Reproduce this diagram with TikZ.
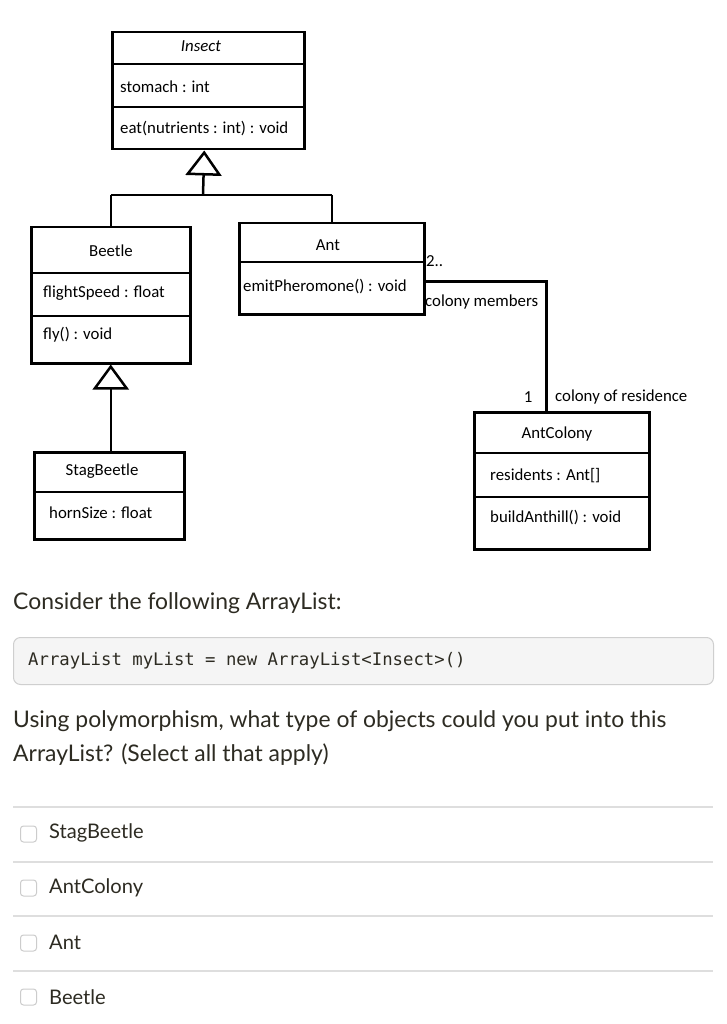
\documentclass[tikz,border=0pt]{standalone}
\usepackage{fontspec}
\setmainfont{Carlito}
\newfontfamily\latofont{Lato}
\newfontfamily\codefont{DejaVu Sans Mono}
\usetikzlibrary{arrows.meta}
\definecolor{txtdark}{HTML}{2D2B22}
\definecolor{codebg}{HTML}{F5F5F5}
\definecolor{codeborder}{HTML}{CFCFCF}
\definecolor{sepline}{HTML}{DEDEDE}
\definecolor{chkborder}{HTML}{CCCCCC}
\tikzset{
  umlbox/.style={draw=black, line width=2.5pt, rectangle, anchor=north west, inner sep=0pt},
  divider/.style={draw=black, line width=2.5pt},
  conn/.style={draw=black, line width=2.5pt},
  gen/.style={conn, -{Triangle[open, length=25pt, width=36pt, line width=2.5pt]}},
  umltext/.style={font=\fontsize{16.8}{19}\selectfont, inner sep=0pt, text=black},
  lbl/.style={umltext, anchor=west},
  qtext/.style={font=\latofont\fontsize{22.9}{27}\selectfont, text=txtdark, anchor=west, inner sep=0pt},
  opttext/.style={font=\latofont\fontsize{20.1}{24}\selectfont, text=txtdark, anchor=west, inner sep=0pt},
  chk/.style={draw=chkborder, line width=1pt, rounded corners=3pt, minimum width=16pt, minimum height=16pt, inner sep=0pt, fill=white},
  sep/.style={draw=sepline, line width=1.6pt},
}
\begin{document}
\begin{tikzpicture}[x=1pt, y=-1pt]
\useasboundingbox[fill=white] (0,0) rectangle (727,1024);

% ---------- Insect ----------
\node[umlbox, minimum width=192pt, minimum height=117pt] (insect) at (111,31) {};
\draw[divider] (111,64) -- (303,64);
\draw[divider] (111,107) -- (303,107);
\node[umltext, font=\fontsize{16.8}{19}\selectfont\itshape] (insectname) at (201,46) {Insect};
\node[lbl] (insectattr) at (120,87) {stomach : int};
\node[lbl] (insectop) at (120,129) {eat(nutrients : int) : void};

% ---------- Beetle ----------
\node[umlbox, minimum width=159pt, minimum height=136pt] (beetle) at (30,226) {};
\draw[divider] (30,273) -- (189,273);
\draw[divider] (30,316) -- (189,316);
\node[umltext] (beetlename) at (111,251) {Beetle};
\node[lbl] (beetleattr) at (43,293) {flightSpeed : float};
\node[lbl] (beetleop) at (43,335) {fly() : void};

% ---------- Ant ----------
\node[umlbox, minimum width=185pt, minimum height=91pt] (ant) at (238,222) {};
\draw[divider] (238,262) -- (423,262);
\node[umltext] (antname) at (328,245) {Ant};
\node[lbl] (antop) at (243,287) {emitPheromone() : void};

% ---------- StagBeetle ----------
\node[umlbox, minimum width=150pt, minimum height=87pt] (stag) at (33,451) {};
\draw[divider] (33,492) -- (183,492);
\node[umltext] (stagname) at (102,471) {StagBeetle};
\node[lbl] (stagattr) at (49,513) {hornSize : float};

% ---------- AntColony ----------
\node[umlbox, minimum width=175pt, minimum height=137pt] (colony) at (473,411) {};
\draw[divider] (473,453) -- (648,453);
\draw[divider] (473,497) -- (648,497);
\node[umltext] (colonyname) at (557,434) {AntColony};
\node[lbl] (colonyattr) at (490,476) {residents : Ant[]};
\node[lbl] (colonyop) at (490,518) {buildAnthill() : void};

% ---------- generalisations ----------
\coordinate (junction) at (203,195);
\draw[gen] (junction) -- ([xshift=-4pt]insect.south);
\draw[conn] (beetle.north |- junction) -- (ant.north |- junction);
\draw[conn] (beetle.north |- junction) -- (beetle.north);
\draw[conn] (ant.north |- junction) -- (ant.north);
\draw[gen] (stag.north -| beetle.south) -- (beetle.south);

% ---------- association ----------
\draw[conn] ([yshift=-12.5pt]ant.east) -| ([xshift=-15.5pt]colony.north);
\node[lbl] (mult1) at (426,261) {2..};
\node[lbl] (role1) at (425,302) {colony members};
\node[umltext] (mult2) at (528,397) {1};
\node[lbl] (role2) at (555,397) {colony of residence};

% ---------- question ----------
\node[qtext] (consider) at (13,603) {Consider the following ArrayList:};
\node[draw=codeborder, fill=codebg, line width=1pt, rounded corners=7pt, anchor=north west,
      minimum width=700pt, minimum height=47pt, inner sep=0pt] (codebox) at (13,637) {};
\node[font=\codefont\fontsize{17.3}{20}\selectfont, text=txtdark, anchor=west, inner sep=0pt] (code) at (28,661)
  {ArrayList myList = new ArrayList<Insect>()};
\node[qtext] (q1) at (13,721) {Using polymorphism, what type of objects could you put into this};
\node[qtext] (q2) at (13,755) {ArrayList? (Select all that apply)};

% ---------- options ----------
\coordinate (s1a) at (13,807); \coordinate (s1b) at (713,807);
\coordinate (s2a) at (13,862); \coordinate (s2b) at (713,862);
\coordinate (s3a) at (13,916); \coordinate (s3b) at (713,916);
\coordinate (s4a) at (13,971); \coordinate (s4b) at (713,971);
\draw[sep] (s1a) -- (s1b);
\draw[sep] (s2a) -- (s2b);
\draw[sep] (s3a) -- (s3b);
\draw[sep] (s4a) -- (s4b);

\node[chk] (c1) at (28.5,834) {};
\node[opttext] (o1) at (49,833) {StagBeetle};
\node[chk] (c2) at (28.5,888) {};
\node[opttext] (o2) at (49,888) {AntColony};
\node[chk] (c3) at (28.5,943) {};
\node[opttext] (o3) at (49,942) {Ant};
\node[chk] (c4) at (28.5,997) {};
\node[opttext] (o4) at (49,997) {Beetle};
\end{tikzpicture}
\end{document}
